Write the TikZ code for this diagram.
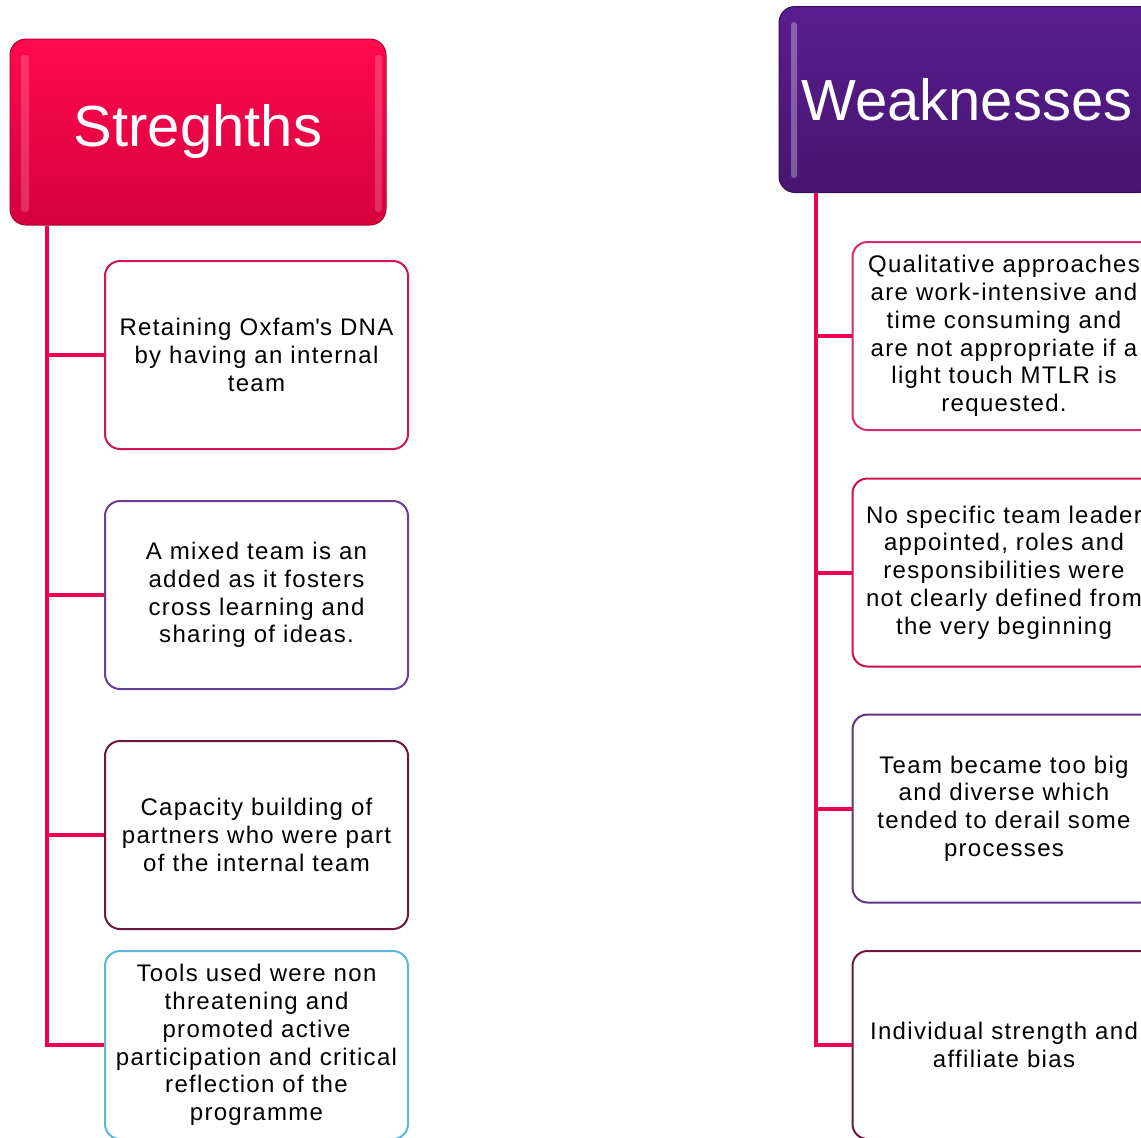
\documentclass[tikz,border=0pt]{standalone}
\usepackage{fontspec}
\setmainfont{Liberation Sans}
\newfontfamily\boxfont{Liberation Sans}[LetterSpace=5.5]
\definecolor{linec}{HTML}{F0004E}
\definecolor{strtop}{HTML}{FF0A4E}
\definecolor{strbot}{HTML}{D6003D}
\definecolor{strdraw}{HTML}{B00032}
\definecolor{weaktop}{HTML}{5A1D90}
\definecolor{weakbot}{HTML}{45166F}
\definecolor{weakdraw}{HTML}{32104F}
\definecolor{bcrimson}{HTML}{D4145A}
\definecolor{bpurple}{HTML}{6B3E98}
\definecolor{bmaroon}{HTML}{6E1840}
\definecolor{bblue}{HTML}{5BB8D8}
\definecolor{bpink}{HTML}{D42A6E}
\definecolor{bred}{HTML}{D0104A}
\definecolor{bviolet}{HTML}{5C3488}
\begin{document}
\begin{tikzpicture}[x=1pt,y=-1pt,
  hdr/.style={rounded corners=16pt, minimum width=376pt, minimum height=186pt,
    line width=1pt, text=white, inner sep=0pt,
    font=\fontsize{58}{66}\selectfont},
  itembox/.style={draw=#1, line width=2pt, rounded corners=15pt, fill=white,
    minimum width=303pt, minimum height=188pt, align=center, inner sep=0pt,
    font=\boxfont\fontsize{24}{27.8}\selectfont},
  conn/.style={draw=linec, line width=4pt},
  gloss/.style={fill=white, opacity=0.18, rounded corners=3pt}
]
\useasboundingbox (0,0) rectangle (1141,1138);
\clip (0,0) rectangle (1141,1138);

% headers
\node[hdr, top color=strtop, bottom color=strbot, draw=strdraw] (sh) at (198,132) {Streghths};
\fill[gloss] (21,55) rectangle (29,212);
\fill[gloss] (375,55) rectangle (382,212);
\node[hdr, top color=weaktop, bottom color=weakbot, draw=weakdraw] (wh) at (967,99.5) {Weaknesses};
\fill[gloss, opacity=0.3] (791,22) rectangle (797,178);

% left column boxes
\node[itembox=bcrimson] (s1) at (256.5,355) {Retaining Oxfam\textquotesingle s DNA\\by having an internal\\team};
\node[itembox=bpurple] (s2) at (256.5,595) {A mixed team is an\\added as it fosters\\cross learning and\\sharing of ideas.};
\node[itembox=bmaroon] (s3) at (256.5,835) {Capacity building of\\partners who were part\\of the internal team};
\node[itembox=bblue] (s4) at (256.5,1045) {Tools used were non\\threatening and\\promoted active\\participation and critical\\reflection of the\\programme};

% right column boxes
\node[itembox=bpink] (w1) at (1004,336) {Qualitative approaches\\are work-intensive and\\time consuming and\\are not appropriate if a\\light touch MTLR is\\requested.};
\node[itembox=bred] (w2) at (1004,572.5) {No specific team leader\\appointed, roles and\\responsibilities were\\not clearly defined from\\the very beginning};
\node[itembox=bviolet] (w3) at (1004,808.5) {Team became too big\\and diverse which\\tended to derail some\\processes};
\node[itembox=bmaroon] (w4) at (1004,1045) {Individual strength and\\affiliate bias};

% connectors
\coordinate (stop) at ([xshift=37pt]sh.south west);
\coordinate (wtop) at ([xshift=37pt]wh.south west);
\draw[conn] (stop) |- (s4.west);
\draw[conn] (s1.west) -- (s1.west -| stop);
\draw[conn] (s2.west) -- (s2.west -| stop);
\draw[conn] (s3.west) -- (s3.west -| stop);
\draw[conn] (wtop) |- (w4.west);
\draw[conn] (w1.west) -- (w1.west -| wtop);
\draw[conn] (w2.west) -- (w2.west -| wtop);
\draw[conn] (w3.west) -- (w3.west -| wtop);
\end{tikzpicture}
\end{document}
